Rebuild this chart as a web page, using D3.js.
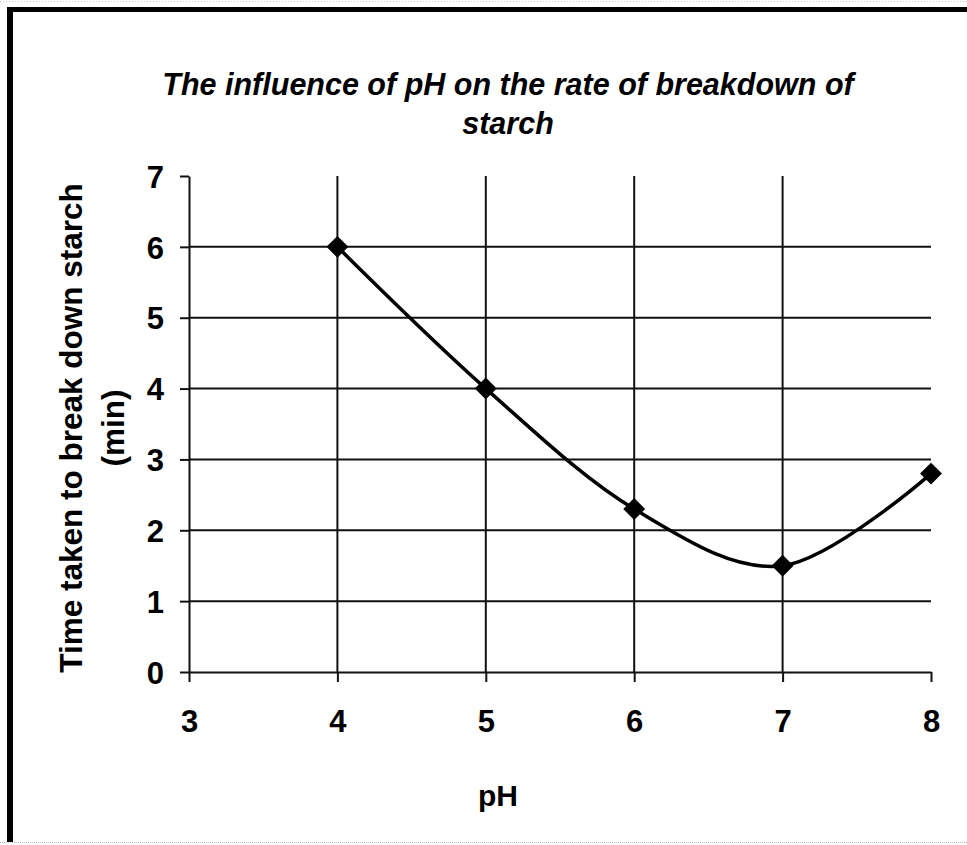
<!DOCTYPE html>
<html>
<head>
<meta charset="utf-8">
<script src="https://cdn.jsdelivr.net/npm/d3@7"></script>
<style>
  html, body { margin: 0; padding: 0; background: #fff; }
  svg { display: block; font-family: "Liberation Sans", Arial, Helvetica, sans-serif; }
</style>
</head>
<body>
<svg id="chart" width="967" height="845"></svg>
<script>
// ---- data ----
const pH = [4, 5, 6, 7, 8];
const timeMin = [6, 4, 2.3, 1.5, 2.8];
const xTicks = [3, 4, 5, 6, 7, 8];
const yTicks = [0, 1, 2, 3, 4, 5, 6, 7];
const titleLines = ["The influence of pH on the rate of breakdown of", "starch"];
const yTitleLines = ["Time taken to break down starch", "(min)"];
const xTitle = "pH";

const svg = d3.select("#chart");
const W = 967, H = 845;

// frame
svg.append("line").attr("x1", 0).attr("x2", W).attr("y1", 1.5).attr("y2", 1.5)
  .attr("stroke", "#c8c8c8").attr("stroke-width", 1).attr("stroke-dasharray", "1,2");
svg.append("line").attr("x1", 0).attr("x2", W).attr("y1", 842.5).attr("y2", 842.5)
  .attr("stroke", "#bdbdbd").attr("stroke-width", 1).attr("stroke-dasharray", "1,1");
svg.append("line").attr("x1", 10).attr("x2", 10).attr("y1", 7).attr("y2", 842)
  .attr("stroke", "#000").attr("stroke-width", 6);
svg.append("line").attr("x1", 7).attr("x2", W).attr("y1", 9.5).attr("y2", 9.5)
  .attr("stroke", "#000").attr("stroke-width", 5);

// scales
const x = d3.scaleLinear().domain([3, 8]).range([189, 931]);
const y = d3.scaleLinear().domain([0, 7]).range([672, 176]);

const g = svg.append("g");

// horizontal gridlines (1..6)
g.selectAll("line.hgrid").data(yTicks.filter(v => v > 0 && v < 7)).enter().append("line")
  .attr("class", "hgrid")
  .attr("x1", x(3)).attr("x2", x(8))
  .attr("y1", d => y(d)).attr("y2", d => y(d))
  .attr("stroke", "#111").attr("stroke-width", 2);

// vertical gridlines (4..7)
g.selectAll("line.vgrid").data(xTicks.filter(v => v > 3 && v < 8)).enter().append("line")
  .attr("class", "vgrid")
  .attr("x1", d => x(d)).attr("x2", d => x(d))
  .attr("y1", y(7)).attr("y2", y(0))
  .attr("stroke", "#111").attr("stroke-width", 2);

// axes
const yAxis = d3.axisLeft(y).tickValues(yTicks).tickSize(9).tickSizeOuter(0).tickFormat(d3.format("d"));
const xAxis = d3.axisBottom(x).tickValues(xTicks).tickSize(10).tickSizeOuter(0).tickFormat(d3.format("d"));

const ya = g.append("g").attr("transform", `translate(${x(3)},0)`).call(yAxis);
ya.select(".domain").attr("stroke", "#111").attr("stroke-width", 2);
ya.selectAll(".tick line").attr("stroke", "#111").attr("stroke-width", 2);
ya.selectAll(".tick text")
  .attr("x", -25).attr("dy", "0.36em")
  .attr("font-size", 31).attr("font-weight", "bold").attr("fill", "#000")
  .attr("font-family", "'Liberation Sans', Arial, sans-serif");

const xa = g.append("g").attr("transform", `translate(0,${y(0)})`).call(xAxis);
xa.select(".domain").attr("stroke", "#111").attr("stroke-width", 2);
xa.selectAll(".tick line").attr("stroke", "#111").attr("stroke-width", 2);
xa.selectAll(".tick text")
  .attr("y", 60).attr("dy", 0)
  .attr("font-size", 31).attr("font-weight", "bold").attr("fill", "#000")
  .attr("font-family", "'Liberation Sans', Arial, sans-serif");

// data line
const pts = pH.map((p, i) => [p, timeMin[i]]);
const line = d3.line().x(d => x(d[0])).y(d => y(d[1])).curve(d3.curveCardinal.tension(0));
g.append("path").attr("d", line(pts)).attr("fill", "none")
  .attr("stroke", "#000").attr("stroke-width", 3.5).attr("stroke-linejoin", "round");

// diamond markers
const sym = d3.symbol().type(d3.symbolSquare).size(240);
g.selectAll("path.marker").data(pts).enter().append("path")
  .attr("class", "marker")
  .attr("d", sym)
  .attr("transform", d => `translate(${x(d[0])},${y(d[1])}) rotate(45)`)
  .attr("fill", "#000");

// title
const t = svg.append("text").attr("text-anchor", "middle")
  .attr("font-size", 30.5).attr("font-weight", "bold").attr("font-style", "italic").attr("fill", "#000");
titleLines.forEach((s, i) => {
  t.append("tspan").attr("x", 508).attr("y", 95 + i * 39).text(s);
});

// y title
const yt = svg.append("text").attr("text-anchor", "middle")
  .attr("transform", "translate(0,428) rotate(-90)")
  .attr("font-size", 31.5).attr("font-weight", "bold").attr("fill", "#000");
yTitleLines.forEach((s, i) => {
  yt.append("tspan").attr("x", 0).attr("y", 82 + i * 42).text(s);
});

// x title
svg.append("text").attr("x", 498).attr("y", 806).attr("text-anchor", "middle")
  .attr("font-size", 30).attr("font-weight", "bold").attr("fill", "#000").text(xTitle);
</script>
</body>
</html>
